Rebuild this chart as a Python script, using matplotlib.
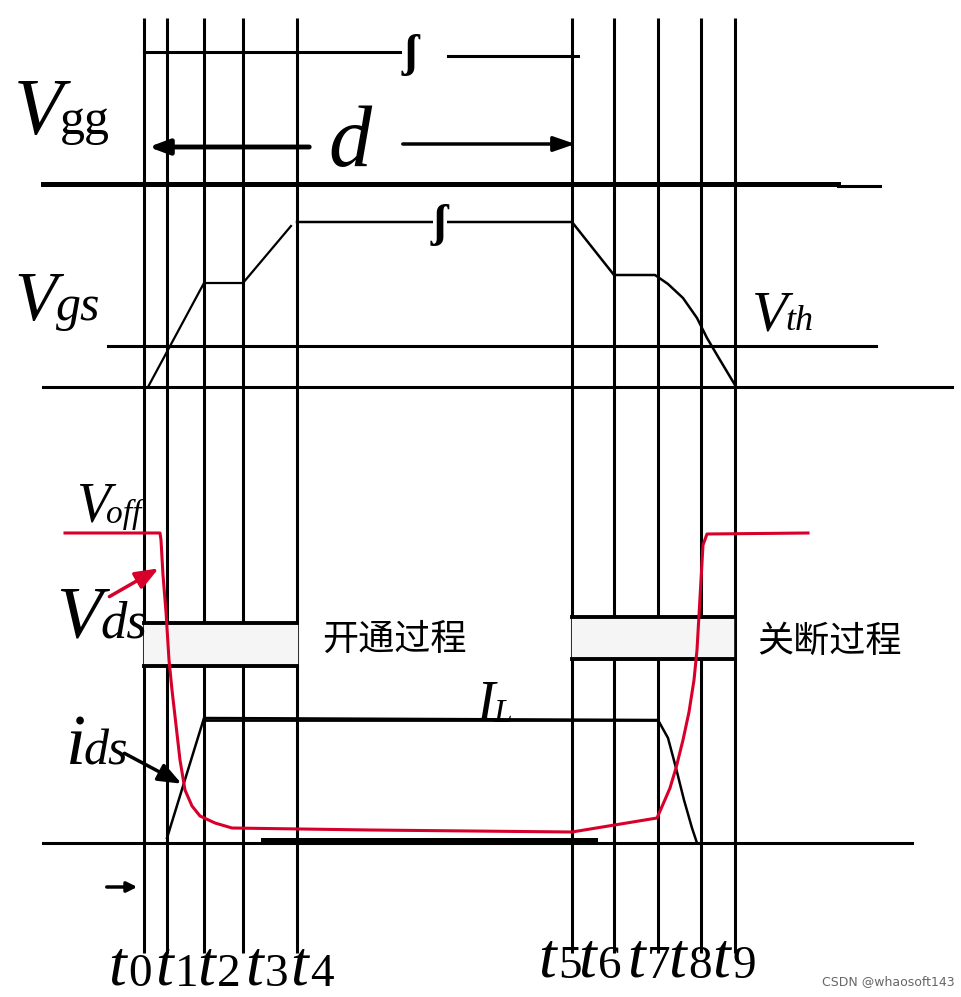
import matplotlib.pyplot as plt

# event times (pixel columns in the original drawing)
t_names = ['0', '1', '2', '3', '4', '5', '6', '7', '8', '9']
t_pos = [144, 167, 204, 243, 297, 572, 614, 658, 701, 735]

# levels (pixel rows)
y_vgg = 184
y_vth = 346
y_gnd1 = 387
y_gnd2 = 843
y_il = 720

# Vgs waveform
vgs_on_x = [148, 204, 243, 291]
vgs_on_y = [387, 283, 283, 226]
vgs_off_x = [297, 430, 448, 572, 614, 655, 668, 683, 697, 707, 720, 735]
vgs_off_y = [222, 222, 222, 222, 275, 275, 284, 298, 318, 338, 360, 385]

# drain current
ids_x = [167, 204, 658, 668, 676, 684, 692, 697]
ids_y = [838, 718, 720, 738, 768, 800, 828, 843]

# drain-source voltage
vds_x = [65, 160, 161, 163, 166, 169, 172, 176, 180, 185, 192, 200, 215, 232, 370, 572,
         657, 664, 670, 676, 683, 689, 694, 697, 699, 701, 703, 707, 808]
vds_y = [533, 533, 540, 575, 612, 660, 690, 725, 760, 790, 806, 816, 823, 828, 830, 832,
         818, 802, 788, 768, 740, 712, 680, 650, 615, 580, 545, 534, 533]

red = '#d7002b'
serif = 'Liberation Serif'

fig = plt.figure(figsize=(9.61, 9.97), dpi=100)
ax = fig.add_axes([0, 0, 1, 1])
ax.set_xlim(0, 961)
ax.set_ylim(997, 0)
ax.axis('off')

# vertical time markers
for x in t_pos:
    ax.plot([x, x], [18, 953], color='black', lw=2.2, solid_capstyle='butt')

# horizontal rails
ax.plot([43, 838], [y_vgg, y_vgg], color='black', lw=3.6)
ax.plot([838, 880], [y_vgg + 2, y_vgg + 2], color='black', lw=2.2)
ax.plot([108, 876], [y_vth, y_vth], color='black', lw=2.2)
ax.plot([43, 952], [y_gnd1, y_gnd1], color='black', lw=2.2)
ax.plot([43, 912], [y_gnd2, y_gnd2], color='black', lw=2.2)
ax.plot([263, 595], [y_gnd2 - 3, y_gnd2 - 3], color='black', lw=3.6)
ax.plot([204, 658], [y_il, y_il], color='black', lw=2.0)

# period bracket
ax.plot([144, 400], [52, 52], color='black', lw=2.2)
ax.plot([448, 578], [56, 56], color='black', lw=2.2)
ax.text(411, 55, 'ʃ', fontsize=34, family=serif, fontweight='bold', ha='center', va='center')

# duty arrows
ax.annotate('', xy=(146, 147), xytext=(312, 147),
            arrowprops=dict(arrowstyle='-|>,head_length=1.2,head_width=0.45', color='black', lw=3.5))
ax.annotate('', xy=(578, 144), xytext=(400, 144),
            arrowprops=dict(arrowstyle='-|>,head_length=1.3,head_width=0.45', color='black', lw=2.5))
ax.text(328, 166, 'd', fontsize=62, family=serif, style='italic', va='baseline')

# Vgs
ax.plot(vgs_on_x, vgs_on_y, color='black', lw=1.6)
ax.plot(vgs_off_x, vgs_off_y, color='black', lw=1.8)
ax.text(440, 225, 'ʃ', fontsize=34, family=serif, fontweight='bold', ha='center', va='center',
        bbox=dict(facecolor='white', edgecolor='none', pad=0))

# transition boxes
ax.fill_between([144, 297], 623, 666, color='#f5f5f5', zorder=3)
ax.plot([144, 297], [623, 623], color='black', lw=2.8, zorder=4)
ax.plot([144, 297], [666, 666], color='black', lw=2.8, zorder=4)
ax.fill_between([572, 733], 617, 659, color='#f5f5f5', zorder=3)
ax.plot([572, 733], [617, 617], color='black', lw=2.8, zorder=4)
ax.plot([572, 733], [659, 659], color='black', lw=2.8, zorder=4)
ax.text(322, 640, '开通过程', fontsize=26, family=['Noto Sans CJK SC'], fontweight='light', va='center')
ax.text(757, 642, '关断过程', fontsize=26, family=['Noto Sans CJK SC'], fontweight='light', va='center')

# currents and voltages
ax.plot(ids_x, ids_y, color='black', lw=1.8, zorder=5)
ax.plot(vds_x, vds_y, color=red, lw=2.2, zorder=6)

# pointer arrows
ax.annotate('', xy=(161, 567), xytext=(107, 598),
            arrowprops=dict(arrowstyle='-|>,head_length=1.4,head_width=0.55', color=red, lw=2.5), zorder=7)
ax.annotate('', xy=(184, 785), xytext=(122, 752),
            arrowprops=dict(arrowstyle='-|>,head_length=1.4,head_width=0.55', color='black', lw=2.5), zorder=7)
ax.annotate('', xy=(140, 887), xytext=(104, 887),
            arrowprops=dict(arrowstyle='-|>,head_length=0.6,head_width=0.3', color='black', lw=2.5))

# signal labels
def label(x, y, main, sub, size, subsize, sub_italic=True, dx=None, dy=0):
    ax.text(x, y, main, fontsize=size, family=serif, style='italic', va='baseline', zorder=8)
    ax.text(x + dx, y + dy, sub, fontsize=subsize, family=serif,
            style='italic' if sub_italic else 'normal', va='baseline', zorder=8)

label(14, 134, 'V', 'gg', 58, 36, sub_italic=False, dx=46)
label(14, 320, 'V', 'gs', 50, 36, dx=42)
label(752, 330, 'V', 'th', 42, 26, dx=33)
label(76, 521, 'V', 'off', 40, 24, dx=30, dy=2)
label(56, 637, 'V', 'ds', 54, 38, dx=44)
label(66, 764, 'i', 'ds', 52, 36, dx=17)
label(476, 720, 'I', 'L', 40, 24, dx=17, dy=2)

# time labels
t_label_x = [108, 155, 197, 245, 290, 538, 578, 627, 668, 712]
for i, (lx, n) in enumerate(zip(t_label_x, t_names)):
    by = 984 if i < 5 else 976
    ax.text(lx, by, 't', fontsize=46, family=serif, style='italic', va='baseline')
    ax.text(lx + 20, by + 2, n, fontsize=34, family=serif, va='baseline')

ax.text(955, 985, 'CSDN @whaosoft143', fontsize=9, color='#666666', ha='right', va='baseline',
        family='DejaVu Sans')

fig.savefig('out.png', dpi=100)
